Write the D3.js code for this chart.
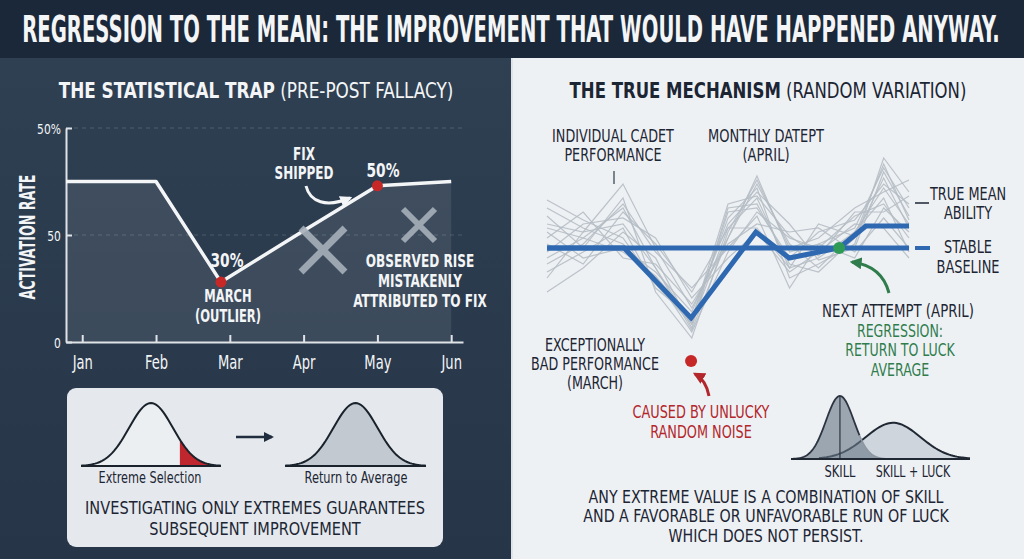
<!DOCTYPE html>
<html>
<head>
<meta charset="utf-8">
<script src="https://cdn.jsdelivr.net/npm/d3@7"></script>
<style>
  body { margin: 0; background: #1b2839; }
  svg { display: block; }
</style>
</head>
<body>
<script>
// ---- data: left chart (pre-post fallacy) ----
const MONTHS = ['Jan', 'Feb', 'Mar', 'Apr', 'May', 'Jun']
const ACTIVATION = [75, 75, 28, 52, 73, 75]
// where in the month each reading sits (March reading taken early)
const READING_AT = [0, 1, 1.88, 3, 4, 5]
const Y_TICKS = [0, 50, 100]
const Y_TICK_LABELS = ['0', '50', '50%']
const HIGHLIGHT_IDX = [2, 4]

// ---- data: right chart (random variation) ----
const STEPS = [0, 1, 2.1, 3, 4, 5, 5.8, 6.7, 7.5, 8.5, 9.3, 10]
const CADETS = [
  [62, 58, 82, 50, 20, 55, 86, 48, 52, 60, 90, 70],
  [45, 55, 70, 40, 12, 60, 75, 40, 45, 58, 80, 62],
  [70, 60, 52, 35, 8, 48, 68, 55, 50, 66, 72, 55],
  [38, 48, 60, 30, 15, 65, 80, 35, 42, 52, 95, 78],
  [55, 68, 45, 42, 22, 52, 62, 58, 60, 48, 65, 50],
  [28, 40, 58, 45, 10, 70, 72, 42, 38, 55, 85, 60],
  [66, 50, 75, 28, 5, 58, 84, 50, 55, 70, 78, 84],
  [48, 62, 65, 55, 25, 45, 58, 38, 48, 62, 60, 45],
  [58, 45, 50, 38, 18, 62, 78, 62, 44, 50, 88, 66],
  [42, 52, 72, 48, 30, 50, 66, 30, 52, 45, 70, 58],
  [74, 64, 55, 32, 12, 68, 70, 45, 58, 64, 82, 72],
  [35, 58, 62, 40, 9, 55, 82, 52, 40, 58, 75, 48],
  [52, 42, 68, 52, 28, 60, 60, 40, 62, 56, 92, 64],
  [60, 55, 48, 36, 14, 72, 76, 56, 46, 68, 68, 76],
]
const MEAN_STEPS = [0, 2.13, 3.98, 5.77, 6.69, 8.07, 8.81, 10]
const MEAN_PERF = [50, 50, 15, 58, 45, 50, 61, 61]
const BASELINE = 50
const NEXT_ATTEMPT_IDX = 5
const EXTREME_POINT = { t: 3.98, v: -6.5 }

// ---- distribution shapes (mean, sd, peak height) ----
const SELECTION_BELL = { mu: 0, sd: 1, amp: 1, tailFrom: 1.32 }
const SKILL_DIST = { mu: 0, sd: 1, amp: 1 }
const LUCK_DIST = { mu: 3.8, sd: 1.95, amp: 0.575 }

const FONT = "'Liberation Sans Narrow','DejaVu Sans Condensed','Roboto Condensed','Liberation Sans',sans-serif"
const W = 1024, H = 559
const DARK = '#1c2533', WHITE = '#f3f5f7', BLUE = '#2e68b1', GREEN = '#2f7d4c', RED = '#b3262b'

const svg = d3.select('body').append('svg').attr('width', W).attr('height', H)
const defs = svg.append('defs')

const grad = defs.append('linearGradient').attr('id', 'leftBg').attr('x1', 0).attr('y1', 0).attr('x2', 0).attr('y2', 1)
grad.append('stop').attr('offset', 0).attr('stop-color', '#2f4053')
grad.append('stop').attr('offset', 1).attr('stop-color', '#263547')

function arrowMarker(id, color) {
  defs.append('marker').attr('id', id)
    .attr('viewBox', '0 0 10 10').attr('refX', 8).attr('refY', 5)
    .attr('markerWidth', 4).attr('markerHeight', 4).attr('orient', 'auto')
    .append('path').attr('d', 'M0,0L10,5L0,10z').attr('fill', color)
}
arrowMarker('arrWhite', WHITE)
arrowMarker('arrGreen', GREEN)
arrowMarker('arrRed', RED)
arrowMarker('arrDark', '#1f2d3f')

// text block helper: lines centred on x, first baseline at y, squeezed to width
function block(parent, x, y, lines, o = {}) {
  const lh = o.lh || 20
  const g = parent.append('g').attr('transform', `translate(${x},${y})`)
  const t = g.append('text')
    .attr('text-anchor', o.anchor || 'middle')
    .attr('font-family', FONT)
    .attr('font-size', o.size || 18)
    .attr('font-weight', o.weight ?? 700)
    .attr('fill', o.fill || WHITE)
  lines.forEach((line, i) => {
    const ts = t.append('tspan').attr('x', 0).attr('y', i * lh)
    if (Array.isArray(line)) line.forEach(([s, w]) => ts.append('tspan').attr('font-weight', w).text(s))
    else ts.text(line)
  })
  if (o.width) {
    const w = t.node().getBBox().width
    t.attr('transform', `scale(${o.width / w},1)`)
  }
  return g
}

// ---- backgrounds ----
svg.append('rect').attr('width', W).attr('height', 58).attr('fill', '#1b2839')
svg.append('rect').attr('y', 58).attr('width', 511).attr('height', H - 58).attr('fill', 'url(#leftBg)')
svg.append('rect').attr('x', 511).attr('y', 58).attr('width', 2).attr('height', H - 58).attr('fill', '#dfe4e8')
svg.append('rect').attr('x', 513).attr('y', 58).attr('width', W - 513).attr('height', H - 58).attr('fill', '#eef1f4')

block(svg, 511, 42, ['REGRESSION TO THE MEAN: THE IMPROVEMENT THAT WOULD HAVE HAPPENED ANYWAY.'],
  { size: 38, width: 978 })

// ================= LEFT PANEL =================
const left = svg.append('g')
block(left, 256, 98, [[['THE STATISTICAL TRAP', 700], [' (PRE-POST FALLACY)', 400]]], { size: 22, width: 395 })

const x = d3.scaleLinear().domain([-0.22, 5.16]).range([66, 463])
const y = d3.scaleLinear().domain([0, 100]).range([342, 128])

// grid
left.append('g').selectAll('line').data(Y_TICKS.slice(1)).join('line')
  .attr('x1', x.range()[0]).attr('x2', x.range()[1])
  .attr('y1', d => y(d)).attr('y2', d => y(d))
  .attr('stroke', 'rgba(255,255,255,0.16)').attr('stroke-dasharray', '4 4')

const pts = [{ t: x.domain()[0], v: ACTIVATION[0] }, ...ACTIVATION.map((v, i) => ({ t: READING_AT[i], v }))]
left.append('path').datum(pts)
  .attr('d', d3.area().x(d => x(d.t)).y0(y(0)).y1(d => y(d.v)))
  .attr('fill', 'rgba(255,255,255,0.085)')

// axes
const xAxis = left.append('g').attr('transform', `translate(0,${y(0)})`)
  .call(d3.axisBottom(x).tickValues(d3.range(MONTHS.length)).tickFormat(i => MONTHS[i])
    .tickSizeInner(-7).tickSizeOuter(0).tickPadding(14))
const yAxis = left.append('g').attr('transform', `translate(${x.range()[0]},0)`)
  .call(d3.axisLeft(y).tickValues(Y_TICKS).tickFormat((d, i) => Y_TICK_LABELS[i])
    .tickSizeInner(-6).tickSizeOuter(0).tickPadding(6))
for (const ax of [xAxis, yAxis]) {
  ax.select('.domain').attr('stroke', '#dfe3e8').attr('stroke-width', 2)
  ax.selectAll('.tick line').attr('stroke', '#dfe3e8').attr('stroke-width', 2)
  ax.selectAll('.tick text').attr('fill', WHITE).attr('font-family', FONT)
}
xAxis.selectAll('.tick text').attr('font-size', 19).attr('dy', '0.71em')
const janW = xAxis.select('.tick text').node().getBBox().width
xAxis.selectAll('.tick text').attr('transform', `scale(${21 / janW},1)`)
yAxis.selectAll('.tick text').attr('font-size', 14).attr('dy', '0.36em').attr('transform', 'scale(0.85,1)')

const ylab = left.append('g').attr('transform', 'translate(35,237) rotate(-90)')
block(ylab, 0, 0, ['ACTIVATION RATE'], { size: 21, width: 125 })

// line + points
left.append('path').datum(pts)
  .attr('d', d3.line().x(d => x(d.t)).y(d => y(d.v)))
  .attr('fill', 'none').attr('stroke', WHITE).attr('stroke-width', 3.5).attr('stroke-linejoin', 'round')

left.selectAll('circle.hl').data(HIGHLIGHT_IDX).join('circle').attr('class', 'hl')
  .attr('cx', i => x(READING_AT[i])).attr('cy', i => y(ACTIVATION[i])).attr('r', 5.5).attr('fill', '#c62828')

// crosses
const crosses = [{ cx: 323, cy: 250, r: 22, w: 7 }, { cx: 419, cy: 225, r: 16, w: 6 }]
left.selectAll('path.cross').data(crosses).join('path').attr('class', 'cross')
  .attr('d', c => `M${c.cx - c.r},${c.cy - c.r}L${c.cx + c.r},${c.cy + c.r}M${c.cx + c.r},${c.cy - c.r}L${c.cx - c.r},${c.cy + c.r}`)
  .attr('stroke', '#a7b0b9').attr('stroke-width', c => c.w).attr('opacity', 0.9)

// annotations
block(left, 227, 267, ['30%'], { size: 19, width: 33 })
block(left, 228, 302, ['MARCH', '(OUTLIER)'], { lh: 20, width: 66 })
block(left, 383, 177, ['50%'], { size: 19, width: 33 })
block(left, 304, 160, ['FIX', 'SHIPPED'], { size: 17, lh: 19.5, width: 59 })
block(left, 420, 267, ['OBSERVED RISE', 'MISTAKENLY', 'ATTRIBUTED TO FIX'], { lh: 20, width: 134 })

left.append('path').attr('d', 'M306,186 C310,202 326,208 350,198')
  .attr('fill', 'none').attr('stroke', WHITE).attr('stroke-width', 3)
  .attr('marker-end', 'url(#arrWhite)')

// bottom box
const box = left.append('g')
box.append('rect').attr('x', 67).attr('y', 388).attr('width', 376).attr('height', 159).attr('rx', 9)
  .attr('fill', '#e5e9ed')

function bellPath(sx, sy, p, from, to) {
  const zs = d3.range(from, to + 1e-9, (to - from) / 80)
  return d3.area().x(z => sx(z)).y0(sy(0)).y1(z => sy(p.amp * Math.exp(-0.5 * ((z - p.mu) / p.sd) ** 2)))(zs)
}
function bellLine(sx, sy, p, from, to) {
  const zs = d3.range(from, to + 1e-9, (to - from) / 80)
  return d3.line().x(z => sx(z)).y(z => sy(p.amp * Math.exp(-0.5 * ((z - p.mu) / p.sd) ** 2)))(zs)
}
const by = d3.scaleLinear().domain([0, 1]).range([466, 403])
const bx1 = d3.scaleLinear().domain([-3.2, 3.2]).range([81, 221])
const bx2 = d3.scaleLinear().domain([-3.2, 3.2]).range([285, 426])

box.append('path').attr('d', bellPath(bx1, by, SELECTION_BELL, -3.2, 3.2)).attr('fill', '#eceff2')
box.append('path').attr('d', bellPath(bx1, by, SELECTION_BELL, SELECTION_BELL.tailFrom, 3.2)).attr('fill', '#c0262d')
box.append('path').attr('d', bellPath(bx2, by, SELECTION_BELL, -3.2, 3.2)).attr('fill', '#c3c9d0')
for (const sx of [bx1, bx2]) {
  box.append('path').attr('d', bellLine(sx, by, SELECTION_BELL, -3.2, 3.2))
    .attr('fill', 'none').attr('stroke', '#1a222c').attr('stroke-width', 2)
  box.append('line').attr('x1', sx(-3.2)).attr('x2', sx(3.2)).attr('y1', by(0)).attr('y2', by(0))
    .attr('stroke', '#1a222c').attr('stroke-width', 2)
}
box.append('line').attr('x1', 236).attr('x2', 272).attr('y1', 437).attr('y2', 437)
  .attr('stroke', '#1f2d3f').attr('stroke-width', 2.5).attr('marker-end', 'url(#arrDark)')

block(box, 150, 483, ['Extreme Selection'], { size: 16, weight: 400, fill: DARK, width: 103 })
block(box, 356, 483, ['Return to Average'], { size: 16, weight: 400, fill: DARK, width: 103 })
block(box, 255, 514, ['INVESTIGATING ONLY EXTREMES GUARANTEES', 'SUBSEQUENT IMPROVEMENT'],
  { size: 18, lh: 21, weight: 400, fill: DARK, width: 340 })

// ================= RIGHT PANEL =================
const right = svg.append('g')
block(right, 768, 98, [[['THE TRUE MECHANISM', 700], [' (RANDOM VARIATION)', 400]]], { size: 22, width: 397, fill: DARK })

const tx = d3.scaleLinear().domain([0, 10]).range([547, 909])
const py = d3.scaleLinear().domain([0, 100]).range([348, 148])
const line = d3.line().x(d => tx(d[0])).y(d => py(d[1]))

right.append('g').selectAll('path').data(CADETS).join('path')
  .attr('d', vals => line(vals.map((v, i) => [STEPS[i], v])))
  .attr('fill', 'none').attr('stroke', '#b5bcc4').attr('stroke-width', 1.2).attr('opacity', 0.9)

right.append('line').attr('x1', tx(0)).attr('x2', tx(10)).attr('y1', py(BASELINE)).attr('y2', py(BASELINE))
  .attr('stroke', BLUE).attr('stroke-width', 5)
right.append('path').datum(MEAN_STEPS.map((t, i) => [t, MEAN_PERF[i]]))
  .attr('d', line).attr('fill', 'none').attr('stroke', BLUE).attr('stroke-width', 5).attr('stroke-linejoin', 'miter')

right.append('circle').attr('cx', tx(MEAN_STEPS[NEXT_ATTEMPT_IDX])).attr('cy', py(MEAN_PERF[NEXT_ATTEMPT_IDX]))
  .attr('r', 6).attr('fill', '#2e9a55')
right.append('circle').attr('cx', tx(EXTREME_POINT.t)).attr('cy', py(EXTREME_POINT.v))
  .attr('r', 6).attr('fill', '#c62828')

// leaders
right.append('line').attr('x1', 614).attr('x2', 614).attr('y1', 171).attr('y2', 184).attr('stroke', '#555e69').attr('stroke-width', 1.5)
right.append('line').attr('x1', 915).attr('x2', 929).attr('y1', 203).attr('y2', 203).attr('stroke', DARK).attr('stroke-width', 1.5)
right.append('line').attr('x1', 915).attr('x2', 930).attr('y1', py(BASELINE)).attr('y2', py(BASELINE)).attr('stroke', BLUE).attr('stroke-width', 4)

block(right, 613, 142, ['INDIVIDUAL CADET', 'PERFORMANCE'], { lh: 19, weight: 400, fill: DARK, width: 122 })
block(right, 766, 142, ['MONTHLY DATEPT', '(APRIL)'], { lh: 19, weight: 400, fill: DARK, width: 116 })
block(right, 968, 200, ['TRUE MEAN', 'ABILITY'], { lh: 19, weight: 400, fill: DARK, width: 77 })
block(right, 968, 253, ['STABLE', 'BASELINE'], { lh: 20, weight: 400, fill: DARK, width: 63 })
block(right, 898, 317, ['NEXT ATTEMPT (APRIL)'], { weight: 400, fill: DARK, width: 152 })
block(right, 900, 337, ['REGRESSION:', 'RETURN TO LUCK', 'AVERAGE'], { lh: 19.5, weight: 400, fill: GREEN, width: 110 })
block(right, 595, 351, ['EXCEPTIONALLY', 'BAD PERFORMANCE', '(MARCH)'], { lh: 19, weight: 400, fill: DARK, width: 128 })
block(right, 701, 418, ['CAUSED BY UNLUCKY', 'RANDOM NOISE'], { lh: 20, weight: 400, fill: RED, width: 137 })

right.append('path').attr('d', 'M889,293 Q882,266 852,262')
  .attr('fill', 'none').attr('stroke', GREEN).attr('stroke-width', 3).attr('marker-end', 'url(#arrGreen)')
right.append('path').attr('d', 'M709,396 Q706,380 695,374')
  .attr('fill', 'none').attr('stroke', RED).attr('stroke-width', 3).attr('marker-end', 'url(#arrRed)')

// skill vs skill + luck
const dx = d3.scaleLinear().domain([-3.5, 9.3]).range([791, 970])
const dy = d3.scaleLinear().domain([0, 1]).range([459, 396])
right.append('path').attr('d', bellPath(dx, dy, LUCK_DIST, -1.5, 9.3)).attr('fill', '#cfd5dc')
right.append('path').attr('d', bellLine(dx, dy, LUCK_DIST, -1.5, 9.3)).attr('fill', 'none').attr('stroke', '#1f2833').attr('stroke-width', 2)
right.append('path').attr('d', bellPath(dx, dy, SKILL_DIST, -3.5, 3.2)).attr('fill', 'rgba(105,120,136,0.62)')
right.append('path').attr('d', bellLine(dx, dy, SKILL_DIST, -3.5, 1.4)).attr('fill', 'none').attr('stroke', '#2b3440').attr('stroke-width', 1.8)
right.append('path').attr('d', bellLine(dx, dy, SKILL_DIST, 1.4, 3.2)).attr('fill', 'none').attr('stroke', '#8d97a2').attr('stroke-width', 1.5)
right.append('line').attr('x1', dx(SKILL_DIST.mu)).attr('x2', dx(SKILL_DIST.mu)).attr('y1', dy(SKILL_DIST.amp)).attr('y2', dy(0))
  .attr('stroke', '#2b3440').attr('stroke-width', 1.2)
right.append('line').attr('x1', dx(-3.5)).attr('x2', dx(9.3)).attr('y1', dy(0)).attr('y2', dy(0))
  .attr('stroke', '#1f2833').attr('stroke-width', 2)

block(right, 840, 477, ['SKILL'], { size: 16, weight: 400, fill: DARK, width: 31 })
block(right, 913, 477, ['SKILL + LUCK'], { size: 16, weight: 400, fill: DARK, width: 75 })
block(right, 766, 503, ['ANY EXTREME VALUE IS A COMBINATION OF SKILL', 'AND A FAVORABLE OR UNFAVORABLE RUN OF LUCK', 'WHICH DOES NOT PERSIST.'],
  { size: 18, lh: 19.5, weight: 400, fill: DARK, width: 366 })
</script>
</body>
</html>
